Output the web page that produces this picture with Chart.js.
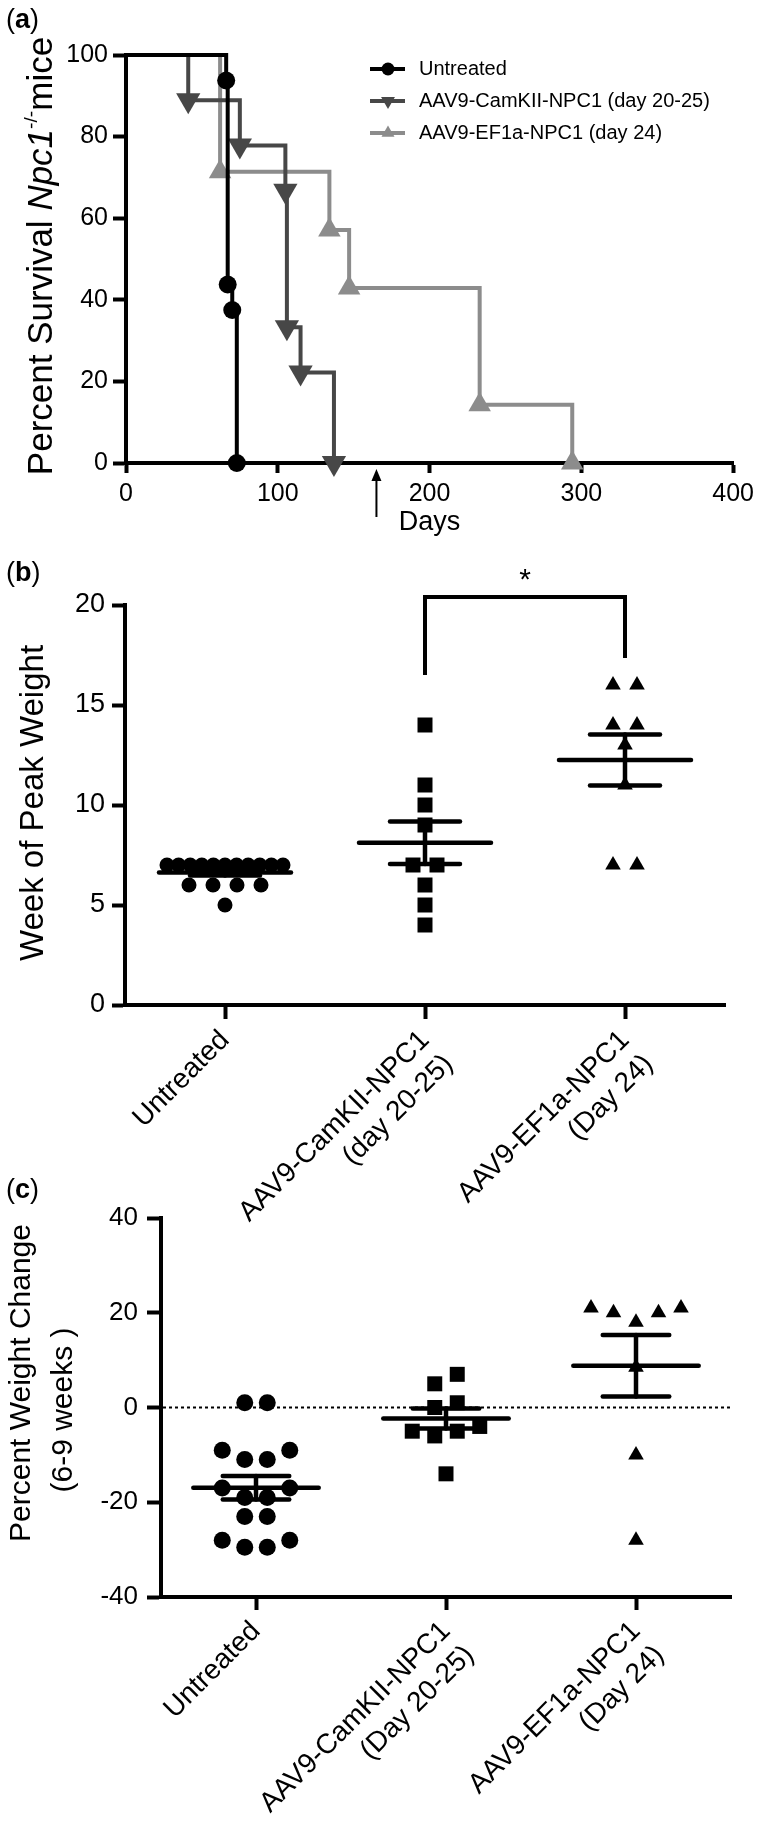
<!DOCTYPE html>
<html>
<head>
<meta charset="utf-8">
<title>NPC1 survival and weight</title>
<script src="https://cdn.jsdelivr.net/npm/chart.js@4.4.1/dist/chart.umd.min.js"></script>
<style>
  body { margin: 0; background: #fff; }
  #page { position: relative; width: 760px; height: 1823px; overflow: hidden;
          font-family: 'Liberation Sans', Arial, Helvetica, sans-serif; color: #000; }
  canvas { position: absolute; left: 0; }
  .tag { position: absolute; font-size: 27px; line-height: 1; }
  .ytitle { position: absolute; white-space: nowrap; line-height: 1;
            transform: translate(-50%, -50%) rotate(-90deg); }
  .ytitle sup { font-size: 0.55em; vertical-align: 0.75em; line-height: 0; }
</style>
</head>
<body>
<div id="page">
  <canvas id="survivalChart" width="760" height="545" style="top:0"></canvas>
  <canvas id="peakChart" width="760" height="680" style="top:545px"></canvas>
  <canvas id="changeChart" width="760" height="673" style="top:1150px"></canvas>

  <div class="tag" style="left:6px; top:6px">(<b>a</b>)</div>
  <div class="tag" style="left:6px; top:559px">(<b>b</b>)</div>
  <div class="tag" style="left:6px; top:1176px">(<b>c</b>)</div>

  <div class="ytitle" style="left:39px; top:256px; font-size:35px">Percent Survival <i>Npc1</i><sup>-/-</sup>mice</div>
  <div class="ytitle" style="left:31px; top:803px; font-size:33px">Week of Peak Weight</div>
  <div class="ytitle" style="left:20px; top:1383px; font-size:30px">Percent Weight Change</div>
  <div class="ytitle" style="left:62px; top:1410px; font-size:30px">(6-9 weeks )</div>
</div>
<script>
// (a) survival, Kaplan-Meier steps
const survivalSeries = ['Untreated', 'AAV9-CamKII-NPC1 (day 20-25)', 'AAV9-EF1a-NPC1 (day 24)'];
const untreatedDays = [0, 66, 67, 70, 73];
const untreatedSurvival = [100, 93.75, 43.75, 37.5, 0];
const camkiiDays = [0, 41, 75, 105, 106, 115, 137];
const camkiiSurvival = [100, 88.9, 77.8, 66.7, 33.3, 22.2, 0];
const ef1aDays = [0, 62, 134, 147, 233, 294];
const ef1aSurvival = [100, 71.4, 57.1, 42.9, 14.3, 0];
const dayTicks = [0, 100, 200, 300, 400];
const survivalTicks = [0, 20, 40, 60, 80, 100];
const injectionDay = 165;

// (b) week of peak weight
const peakGroups = ['Untreated', ['AAV9-CamKII-NPC1', '(day 20-25)'], ['AAV9-EF1a-NPC1', '(Day 24)']];
const untreatedPeak = [7, 7, 7, 7, 7, 7, 7, 7, 7, 7, 7, 6, 6, 6, 6, 5];
const camkiiPeak = [14, 11, 10, 9, 7, 7, 6, 5, 4];
const ef1aPeak = [16, 16, 14, 14, 13, 11, 7, 7];
const peakTicks = [0, 5, 10, 15, 20];

// (c) percent weight change, 6-9 weeks
const changeGroups = ['Untreated', ['AAV9-CamKII-NPC1', '(Day 20-25)'], ['AAV9-EF1a-NPC1', '(Day 24)']];
const untreatedChange = [1, 1, -9, -9, -11, -11, -17, -17, -19, -19, -23, -23, -28, -28, -29.5, -29.5];
const camkiiChange = [7, 5, 1, 0, -4, -5, -5, -6, -14];
const ef1aChange = [21, 20, 18, 20, 21, 8.5, -10, -28];
const changeTicks = [-40, -20, 0, 20, 40];

const FONT = "'Liberation Sans', Arial, Helvetica, sans-serif";
Chart.defaults.font.family = FONT;
Chart.defaults.color = '#000';

const survivalColors = ['#000000', '#474747', '#8c8c8c'];
const survivalMarkers = [
  { style: 'circle', rotation: 0, radius: 9, legend: 6.5 },
  { style: 'triangle', rotation: 180, radius: 14, legend: 8 },
  { style: 'triangle', rotation: 0, radius: 13, legend: 7.5 }
];
const groupMarkers = ['circle', 'rect', 'triangle'];

function fixedTicks(values) {
  return scale => { scale.ticks = values.map(v => ({ value: v })); };
}

function axis(fontSize, tickLength, padding, extra, tickExtra) {
  return Object.assign({
    type: 'linear',
    border: { display: true, color: '#000', width: 4 },
    grid: { drawOnChartArea: false, drawTicks: true, tickLength: tickLength, tickWidth: 4, tickColor: '#000' },
    ticks: Object.assign({ color: '#000', font: { size: fontSize }, padding: padding, autoSkip: false }, tickExtra || {})
  }, extra);
}

function drawMarker(ctx, style, x, y, r, flip) {
  ctx.beginPath();
  if (style === 'circle') {
    ctx.arc(x, y, r, 0, Math.PI * 2);
  } else {
    const s = flip ? -1 : 1;
    ctx.moveTo(x, y - s * r);
    ctx.lineTo(x + 0.866 * r, y + s * 0.5 * r);
    ctx.lineTo(x - 0.866 * r, y + s * 0.5 * r);
    ctx.closePath();
  }
  ctx.fill();
}

function meanSem(values) {
  const n = values.length;
  const mean = values.reduce((a, b) => a + b, 0) / n;
  const sd = Math.sqrt(values.reduce((a, b) => a + (b - mean) * (b - mean), 0) / (n - 1));
  return { mean: mean, sem: sd / Math.sqrt(n) };
}

// spread close values side by side, like a prism dot plot
function rowOffsets(values, bin, step, maxHalf) {
  const order = values.map((v, i) => i).sort((a, b) => values[a] - values[b]);
  const rows = [];
  let row = null;
  order.forEach(i => {
    if (!row || values[i] - values[row[0]] > bin) { row = [i]; rows.push(row); }
    else row.push(i);
  });
  const off = values.map(() => 0);
  rows.forEach(r => {
    const n = r.length;
    const w = n > 1 ? Math.min(step, 2 * maxHalf / (n - 1)) : step;
    const slots = [];
    for (let k = 0; k < n; k++) slots.push((k - (n - 1) / 2) * w);
    slots.sort((a, b) => Math.abs(a) - Math.abs(b) || a - b);
    r.forEach((i, j) => { off[i] = slots[j]; });
  });
  return off;
}

// ---------- (a) ----------
const survivalLegend = {
  id: 'survivalLegend',
  afterDraw(chart) {
    const ctx = chart.ctx;
    ctx.save();
    ctx.font = '20px ' + FONT;
    ctx.textBaseline = 'middle';
    chart.data.datasets.forEach((ds, i) => {
      const y = 69 + i * 32;
      ctx.strokeStyle = ds.borderColor;
      ctx.fillStyle = ds.borderColor;
      ctx.lineWidth = 4;
      ctx.beginPath(); ctx.moveTo(370, y); ctx.lineTo(405, y); ctx.stroke();
      drawMarker(ctx, survivalMarkers[i].style, 388, y, survivalMarkers[i].legend, survivalMarkers[i].rotation === 180);
      ctx.fillStyle = '#000';
      ctx.fillText(ds.label, 419, y);
    });
    ctx.restore();
  }
};

const injectionArrow = {
  id: 'injectionArrow',
  afterDraw(chart) {
    const { ctx, chartArea, scales } = chart;
    const x = scales.x.getPixelForValue(injectionDay);
    const top = chartArea.bottom + 6, bottom = chartArea.bottom + 54;
    ctx.save();
    ctx.strokeStyle = '#000'; ctx.fillStyle = '#000'; ctx.lineWidth = 2;
    ctx.beginPath(); ctx.moveTo(x, bottom); ctx.lineTo(x, top + 8); ctx.stroke();
    ctx.beginPath(); ctx.moveTo(x, top); ctx.lineTo(x + 5, top + 12); ctx.lineTo(x - 5, top + 12); ctx.closePath(); ctx.fill();
    ctx.restore();
  }
};

const survivalData = [[untreatedDays, untreatedSurvival], [camkiiDays, camkiiSurvival], [ef1aDays, ef1aSurvival]];

new Chart(document.getElementById('survivalChart'), {
  type: 'line',
  data: {
    datasets: survivalSeries.map((name, i) => ({
      label: name,
      data: survivalData[i][0].map((d, j) => ({ x: d, y: survivalData[i][1][j] })),
      borderColor: survivalColors[i],
      backgroundColor: survivalColors[i],
      borderWidth: 4,
      stepped: 'before',
      clip: false,
      pointStyle: survivalMarkers[i].style,
      pointRotation: survivalMarkers[i].rotation,
      pointRadius: ctx => (ctx.dataIndex === 0 ? 0 : survivalMarkers[i].radius),
      pointBorderWidth: 0,
      pointBackgroundColor: survivalColors[i]
    }))
  },
  options: {
    responsive: false,
    animation: false,
    layout: { padding: { top: 55, right: 23, bottom: 0, left: 0 } },
    plugins: { legend: { display: false }, tooltip: { enabled: false } },
    scales: {
      x: axis(25, 10, 6, {
        min: 0, max: 400,
        afterBuildTicks: fixedTicks(dayTicks),
        afterFit: s => { s.height = 82; },
        title: { display: true, text: 'Days', font: { size: 27 }, padding: { top: 0, bottom: 6 } }
      }),
      y: axis(25, 13, 5, {
        min: 0, max: 100,
        afterBuildTicks: fixedTicks(survivalTicks),
        afterFit: s => { s.width = 126; }
      })
    }
  },
  plugins: [survivalLegend, injectionArrow]
});

// ---------- (b) and (c) ----------
function dotPlot(id, groups, series, yMin, yMax, yTicks, look, extraPlugins) {
  const dots = series.map((vals, i) => ({
    type: 'scatter',
    data: vals.map(v => ({ x: i, y: v })),
    pointStyle: groupMarkers[i],
    pointRadius: look.radius[i],
    backgroundColor: '#000',
    borderWidth: 0,
    clip: false
  }));
  const bars = [];
  series.forEach((vals, i) => {
    const s = meanSem(vals);
    [
      [[i - 0.33, s.mean], [i + 0.33, s.mean]],
      [[i - 0.175, s.mean + s.sem], [i + 0.175, s.mean + s.sem]],
      [[i - 0.175, s.mean - s.sem], [i + 0.175, s.mean - s.sem]],
      [[i, s.mean - s.sem], [i, s.mean + s.sem]]
    ].forEach(seg => bars.push({
      type: 'line',
      data: seg.map(p => ({ x: p[0], y: p[1] })),
      borderColor: '#000',
      borderWidth: 4.5,
      borderCapStyle: 'round',
      pointRadius: 0,
      clip: false
    }));
  });

  const chart = new Chart(document.getElementById(id), {
    type: 'scatter',
    data: { datasets: dots.concat(bars) },
    options: {
      responsive: false,
      animation: false,
      layout: { padding: look.padding },
      plugins: { legend: { display: false }, tooltip: { enabled: false } },
      scales: {
        x: axis(28, look.xTick, 5, {
          min: -0.5, max: groups.length - 0.5,
          afterBuildTicks: fixedTicks(groups.map((g, i) => i)),
          afterFit: s => { s.height = look.xHeight; }
        }, { minRotation: 45, maxRotation: 45, callback: v => groups[v] }),
        y: axis(look.yFont, look.yTick, look.yPad, {
          min: yMin, max: yMax,
          afterBuildTicks: fixedTicks(yTicks),
          afterFit: s => { s.width = look.yWidth; }
        })
      }
    },
    plugins: extraPlugins
  });

  // place the dots now that the scales know their pixel size
  const pxX = chart.scales.x.getPixelForValue(1) - chart.scales.x.getPixelForValue(0);
  const pxY = Math.abs(chart.scales.y.getPixelForValue(1) - chart.scales.y.getPixelForValue(0));
  series.forEach((vals, i) => {
    const off = rowOffsets(vals, look.markerPx / pxY, look.step, look.maxHalf);
    chart.data.datasets[i].data = vals.map((v, j) => ({ x: i + off[j] / pxX, y: v }));
  });
  chart.update('none');
  return chart;
}

const sigBracket = { from: 1, to: 2, top: 20.4, leftFoot: 16.5, rightFoot: 17.35, mark: '*' };
const bracketPlugin = {
  id: 'bracket',
  afterDraw(chart) {
    const { ctx, scales } = chart;
    const x1 = scales.x.getPixelForValue(sigBracket.from);
    const x2 = scales.x.getPixelForValue(sigBracket.to);
    const yt = scales.y.getPixelForValue(sigBracket.top);
    ctx.save();
    ctx.strokeStyle = '#000'; ctx.lineWidth = 4; ctx.lineJoin = 'miter';
    ctx.beginPath();
    ctx.moveTo(x1, scales.y.getPixelForValue(sigBracket.leftFoot));
    ctx.lineTo(x1, yt); ctx.lineTo(x2, yt);
    ctx.lineTo(x2, scales.y.getPixelForValue(sigBracket.rightFoot));
    ctx.stroke();
    ctx.fillStyle = '#000';
    ctx.font = '30px ' + FONT;
    ctx.textAlign = 'center';
    ctx.textBaseline = 'alphabetic';
    ctx.fillText(sigBracket.mark, (x1 + x2) / 2, yt - 8);
    ctx.restore();
  }
};

const zeroLine = {
  id: 'zeroLine',
  beforeDatasetsDraw(chart) {
    const { ctx, chartArea, scales } = chart;
    const y = scales.y.getPixelForValue(0);
    ctx.save();
    ctx.strokeStyle = '#000'; ctx.lineWidth = 2; ctx.setLineDash([3, 3]);
    ctx.beginPath(); ctx.moveTo(chartArea.left + 2, y); ctx.lineTo(chartArea.right, y); ctx.stroke();
    ctx.restore();
  }
};

dotPlot('peakChart', peakGroups, [untreatedPeak, camkiiPeak, ef1aPeak], 0, 20, peakTicks, {
  padding: { top: 60, right: 35, bottom: 0, left: 0 },
  xHeight: 220, xTick: 14, yWidth: 125, yFont: 27, yTick: 13, yPad: 7,
  radius: [7.5, 10.6, 9], markerPx: 15, step: 24, maxHalf: 58
}, [bracketPlugin]);

dotPlot('changeChart', changeGroups, [untreatedChange, camkiiChange, ef1aChange], -40, 40, changeTicks, {
  padding: { top: 68, right: 29, bottom: 0, left: 0 },
  xHeight: 226, xTick: 13, yWidth: 161, yFont: 26, yTick: 14, yPad: 9,
  radius: [8.5, 10.6, 9], markerPx: 16, step: 22.5, maxHalf: 58
}, [zeroLine]);
</script>
</body>
</html>
